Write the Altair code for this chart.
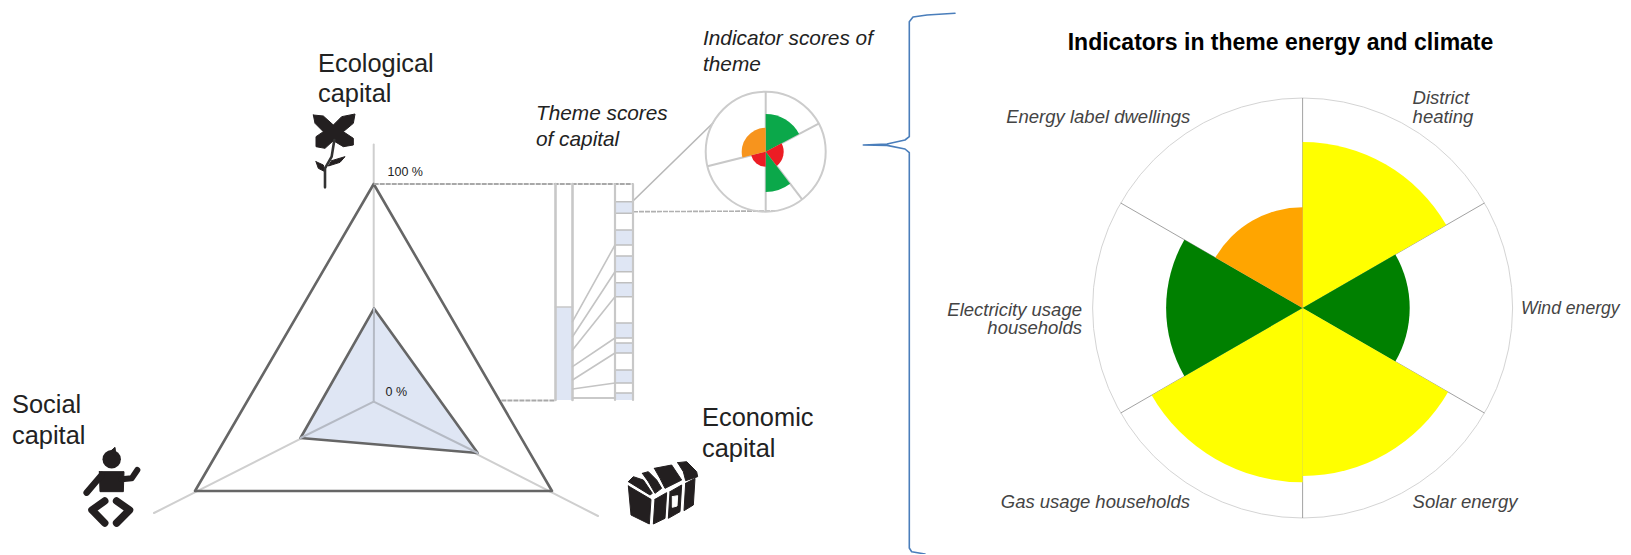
import math
import altair as alt
import pandas as pd

W, H = 1615, 546
XS = alt.Scale(domain=[8, 8 + W], range=[0, W])
YS = alt.Scale(domain=[8, 8 + H], range=[0, H])
TS = alt.Scale(domain=[0, 360], range=[0, 2 * math.pi])

# ---- main nightingale chart
ind_names = ["District heating", "Wind energy", "Solar energy", "Gas usage households",
             "Electricity usage households", "Energy label dwellings"]
ind_scores = [79, 51, 80, 83, 65, 48]
ind_colors = ["#FFFF00", "#008000", "#FFFF00", "#FFFF00", "#008000", "#FFA500"]
ind_start = [0, 60, 120, 180, 240, 300]
ind_end = [60, 120, 180, 240, 300, 360]
main_c = (1302.6, 308)
main_r = 210

# ---- small nightingale chart
mini_scores = [63, 30, 67, 25, 40]
mini_colors = ["#0BA84A", "#EC1C24", "#0BA84A", "#EC1C24", "#F7941D"]
mini_start = [0, 62, 142.6, 180, 256]
mini_end = [62, 142.6, 180, 256, 360]
mini_c = (765.7, 151.7)
mini_r = 60

# ---- triangle
tri_x = [373.7, 552, 195, 373.7]
tri_y = [184, 491, 491, 184]
score_x = [374, 477.7, 300.5, 374]
score_y = [308.6, 453, 438, 308.6]
axis_x = [373.7, 598, 154]
axis_y = [144.4, 516, 513]
centre = (373.7, 401.6)

# ---- theme bars
bar1 = (555.5, 572.5, 184, 400, 307)
stack_x = (615, 633)
seg_top = [201.7, 230, 256, 282.7, 323, 343, 370, 393]
seg_bot = [213.3, 245, 271.7, 296.7, 338, 353, 383, 400]
link_y0 = [321.7, 336.7, 350, 366.7, 380, 389, 398]
link_y1 = [245, 271.7, 296.7, 338, 353, 383, 398]

# ---- brace
brace_x = [955, 927, 913, 909.3, 909.3, 905, 887, 863.3, 887, 905, 909.3, 909.3, 911.7, 925]
brace_y = [13.3, 15, 17, 21.7, 136.7, 140, 144, 145, 145.4, 149, 152.7, 548, 551.7, 554]

# ---- icons
flower = [(70,45),(100,48),(130,75),(155,50),(195,42),(190,70),(160,95),(190,115),(190,135),(160,140),
          (130,122),(105,145),(78,140),(78,110),(100,95),(75,70)]
leaf_r = [(125,182),(165,170),(150,187),(115,198)]
leaf_l = [(78,185),(100,195),(105,215),(85,205)]
stem = [(133,120),(125,170),(105,205),(105,262)]
torso = [(118,155),(192,155),(190,215),(120,215)]
tuft = [(150,95),(165,82),(168,110)]
head_x, head_y = [111.7], [459.3]
arm_l = [(125,165),(80,218)]
arm_r = [(185,178),(215,175),(232,150)]
leg_l = [(104.7,501),(92,510),(104.7,523)]
leg_r = [(116.6,501),(129.5,510),(116.6,523)]
chest = [
    [(40,108),(108,148),(103,222),(48,195)],
    [(120,148),(155,128),(150,205),(115,222)],
    [(165,125),(200,105),(195,185),(160,205)],
    [(212,100),(240,85),(235,165),(207,182)],
    [(40,95),(55,80),(85,90),(112,130),(105,135),(45,98)],
    [(82,70),(100,65),(125,90),(140,115),(120,130),(100,95)],
    [(118,55),(170,45),(200,90),(150,115),(135,85)],
    [(188,38),(215,35),(245,65),(248,80),(212,92),(205,65)],
]
keyhole = [(172,140),(188,137),(186,168),(172,172)]

def X(f): return alt.X(f, type="quantitative", scale=XS, axis=None)
def Y(f): return alt.Y(f, type="quantitative", scale=YS, axis=None)

def polyline(points, color, width, dash=None, closed=False, fill=None):
    rows = [{"px": p[0], "py": p[1], "k": i} for i, p in enumerate(points)]
    if closed:
        rows.append({"px": points[0][0], "py": points[0][1], "k": len(points)})
    kw = {"color": color, "strokeWidth": width, "strokeJoin": "round", "strokeCap": "round"}
    if dash:
        kw["strokeDash"] = dash
        kw["strokeCap"] = "butt"
    if fill:
        kw["fill"] = fill
    return alt.Chart(pd.DataFrame(rows)).mark_line(**kw).encode(
        x=X("px"), y=Y("py"), order=alt.Order("k:Q"))

def scaled(points, ox, oy, sx=3.0, sy=3.0):
    return [(ox + a / sx, oy + b / sy) for a, b in points]

def text_layer(rows, size, color="#222222", style="normal", weight="normal", align="left", font="Liberation Sans"):
    df = pd.DataFrame(rows, columns=["t", "tx", "ty"])
    return alt.Chart(df).mark_text(fontSize=size, color=color, fontStyle=style, fontWeight=weight,
                                   align=align, baseline="middle", font=font).encode(
        x=X("tx"), y=Y("ty"), text="t:N")

def rose(c, r, start, end, scores, colors):
    df = pd.DataFrame({"s": start, "e": end, "v": scores, "col": colors,
                       "cx": [c[0]] * len(start), "cy": [c[1]] * len(start)})
    return alt.Chart(df).mark_arc().encode(
        x=X("cx"), y=Y("cy"),
        theta=alt.Theta("s:Q", scale=TS), theta2=alt.Theta2("e:Q"),
        radius=alt.Radius("v:Q", scale=alt.Scale(type="linear", domain=[0, 100], range=[0, r])),
        fill=alt.Fill("col:N", scale=None))

def ring(c, r, color, width):
    df = pd.DataFrame({"cx": [c[0]], "cy": [c[1]]})
    return alt.Chart(df).mark_point(filled=False, color=color, strokeWidth=width, opacity=1,
                                    size=4 * r * r).encode(x=X("cx"), y=Y("cy"))

def spokes(c, r, angles, color, width):
    rows = [{"a": c[0], "b": c[1], "a2": c[0] + r * math.sin(math.radians(t)),
             "b2": c[1] - r * math.cos(math.radians(t))} for t in angles]
    return alt.Chart(pd.DataFrame(rows)).mark_rule(color=color, strokeWidth=width).encode(
        x=X("a"), y=Y("b"), x2="a2:Q", y2="b2:Q")

layers = []

# axes and triangles
for ax, ay in zip(axis_x, axis_y):
    layers.append(polyline([centre, (ax, ay)], "#cfcfcf", 2))
layers.append(polyline(list(zip(score_x, score_y)), "#666666", 2.6, fill="#DFE6F4"))
for sx_, sy_ in zip(score_x[:3], score_y[:3]):
    layers.append(polyline([centre, (sx_, sy_)], "#b5bac4", 2))
layers.append(polyline(list(zip(tri_x, tri_y)), "#666666", 2.6))

# dashed connectors
layers.append(polyline([(373.7, 184), (633, 184)], "#a8a8a8", 2, dash=[5, 1]))
layers.append(polyline([(501.4, 400.6), (555, 400.6)], "#a8a8a8", 2, dash=[5, 1]))
layers.append(polyline([(572.5, 398), (615, 398)], "#cccccc", 1.5))
layers.append(polyline([(633, 211.7), (775, 211)], "#b0b0b0", 1.6, dash=[5, 1]))
layers.append(polyline([(633, 201), (713, 123)], "#b8b8b8", 1.6))

# theme score bar
rect_df = pd.DataFrame({"a": [bar1[0]], "a2": [bar1[1]], "b": [bar1[4]], "b2": [bar1[3]]})
layers.append(alt.Chart(rect_df).mark_rect(color="#DFE6F4").encode(
    x=X("a"), x2="a2:Q", y=Y("b"), y2="b2:Q"))
layers.append(polyline([(bar1[0], bar1[2]), (bar1[0], bar1[3])], "#c8c8c8", 2.6))
layers.append(polyline([(bar1[1], bar1[2]), (bar1[1], bar1[3])], "#c8c8c8", 2.6))
layers.append(polyline([(bar1[0], bar1[4]), (bar1[1], bar1[4])], "#c8c8c8", 1.6))

# theme stack
seg_df = pd.DataFrame({"a": [stack_x[0]] * len(seg_top), "a2": [stack_x[1]] * len(seg_top),
                       "b": seg_top, "b2": seg_bot})
layers.append(alt.Chart(seg_df).mark_rect(color="#DFE6F4").encode(
    x=X("a"), x2="a2:Q", y=Y("b"), y2="b2:Q"))
for yy in seg_top + seg_bot[:-1]:
    layers.append(polyline([(stack_x[0], yy), (stack_x[1], yy)], "#bfbfbf", 1.6))
layers.append(polyline([(stack_x[0], 184), (stack_x[0], 400)], "#c8c8c8", 2.2))
layers.append(polyline([(stack_x[1], 184), (stack_x[1], 400)], "#c8c8c8", 2.2))
for y0, y1 in zip(link_y0, link_y1):
    layers.append(polyline([(bar1[1], y0), (stack_x[0], y1)], "#c4c4c4", 1.6))

# small rose
layers.append(ring(mini_c, mini_r, "#cccccc", 2))
layers.append(spokes(mini_c, mini_r, [0, 62, 142.6, 180, 256], "#c8c8c8", 2))
layers.append(rose(mini_c, mini_r, mini_start, mini_end, mini_scores, mini_colors))

# brace
layers.append(polyline(list(zip(brace_x, brace_y)), "#4A7EBB", 1.6))

# main rose
layers.append(ring(main_c, main_r, "#d4d4d4", 1))
layers.append(spokes(main_c, main_r, ind_start, "#8a8a8a", 0.8))
layers.append(rose(main_c, main_r, ind_start, ind_end, ind_scores, ind_colors))

# flower icon
ox, oy = 290, 100
layers.append(polyline(scaled(flower, ox, oy), "#231F20", 1, closed=True, fill="#231F20"))
layers.append(polyline(scaled(leaf_r, ox, oy), "#231F20", 1, closed=True, fill="#231F20"))
layers.append(polyline(scaled(leaf_l, ox, oy), "#231F20", 1, closed=True, fill="#231F20"))
layers.append(polyline(scaled(stem, ox, oy), "#333333", 2.6))

# baby icon
ox, oy = 60, 420
layers.append(alt.Chart(pd.DataFrame({"a": head_x, "b": head_y})).mark_point(
    filled=True, color="#231F20", opacity=1, size=340).encode(x=X("a"), y=Y("b")))
layers.append(polyline(scaled(tuft, ox, oy), "#231F20", 1, closed=True, fill="#231F20"))
layers.append(polyline(scaled(torso, ox, oy), "#231F20", 1, closed=True, fill="#231F20"))
layers.append(polyline(scaled(arm_l, ox, oy), "#231F20", 6.5))
layers.append(polyline(scaled(arm_r, ox, oy), "#231F20", 6))
layers.append(polyline(leg_l, "#231F20", 7.5))
layers.append(polyline(leg_r, "#231F20", 7.5))

# chest icon
ox, oy = 615, 450
for shape in chest:
    layers.append(polyline(scaled(shape, ox, oy), "#231F20", 1, closed=True, fill="#231F20"))
layers.append(polyline(scaled(keyhole, ox, oy), "#ffffff", 1, closed=True, fill="#ffffff"))

# texts
layers.append(text_layer([("Ecological", 318, 63.5), ("capital", 318, 94), ("Social", 12, 405), ("capital", 12, 435.5),
                          ("Economic", 702, 418), ("capital", 702, 449)], 25.4))
layers.append(text_layer([("Theme scores", 536, 114), ("of capital", 536, 139.5),
                          ("Indicator scores of", 703, 39), ("theme", 703, 64.5)], 20.8, style="italic"))
layers.append(text_layer([("100 %", 387.5, 172), ("0 %", 385.5, 392)], 12.5))
layers.append(text_layer([("Indicators in theme energy and climate", 1067.7, 43)], 23, color="#000000", weight="bold"))
layers.append(text_layer([("District", 1412.6, 97.7), ("heating", 1412.6, 116.8), ("Solar energy", 1412.6, 502)],
                         18.5, color="#444444", style="italic"))
layers.append(text_layer([("Wind energy", 1521, 309)], 17.6, color="#444444", style="italic"))
layers.append(text_layer([("Energy label dwellings", 1190.3, 116.8), ("Electricity usage", 1082, 309.7),
                          ("households", 1082, 328), ("Gas usage households", 1190, 501.6)], 18.5,
                         color="#444444", style="italic", align="right"))

chart = alt.layer(*layers).resolve_scale(radius="independent").properties(
    width=W, height=H, padding=0, autosize=alt.AutoSizeParams(type="none"), background="#ffffff"
).configure_view(stroke=None)

chart.save("out.html", embed_options={"renderer": "svg", "actions": False})
